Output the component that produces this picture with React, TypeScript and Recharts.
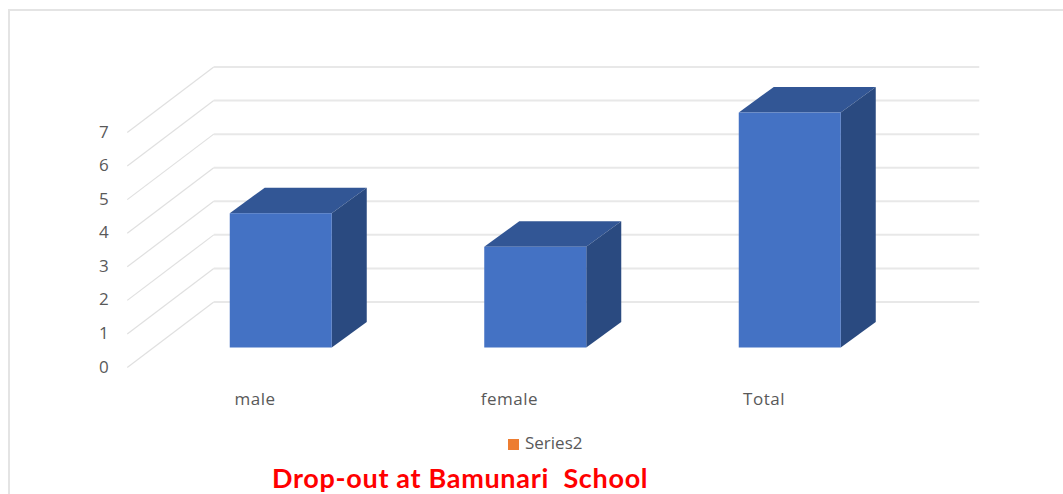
import React from "react";
import { BarChart, Bar, XAxis, YAxis, CartesianGrid, Legend } from "recharts";

const categories = ["male", "female", "Total"];
const dropouts = [4, 3, 7];
const series2: (number | null)[] = [null, null, null];
const yTicks = [0, 1, 2, 3, 4, 5, 6, 7];
const chartTitle = "Drop-out at Bamunari  School";

const rows = categories.map((name, i) => ({ name, dropouts: dropouts[i], series2: series2[i] }));

const LABEL_FONT = "'Open Sans', sans-serif";
const LABEL_COLOR = "#595959";
const DEPTH_X = 35;
const DEPTH_Y = 25.5;

function Bar3D(props: any) {
  const { x, y, width, height } = props;
  if (!height) return null;
  const r = x + width;
  const b = y + height;
  return (
    <g>
      <polygon points={`${x},${y} ${x + DEPTH_X},${y - DEPTH_Y} ${r + DEPTH_X},${y - DEPTH_Y} ${r},${y}`} fill="#325695" />
      <polygon points={`${r},${y} ${r + DEPTH_X},${y - DEPTH_Y} ${r + DEPTH_X},${b - DEPTH_Y} ${r},${b}`} fill="#2a4a80" />
      <rect x={x} y={y} width={width} height={height} fill="#4472c4" />
    </g>
  );
}

function WallLine(props: any) {
  const { x1, x2, y1 } = props;
  return (
    <g fill="none">
      <line x1={x1 - 26.5} y1={y1 + 20} x2={x1 + 60} y2={y1 - 45.5} stroke="#e0e0e0" strokeWidth={1.2} />
      <line x1={x1 + 60} y1={y1 - 45.5} x2={x2 + 62} y2={y1 - 45.5} stroke="#e8e8e8" strokeWidth={2} />
    </g>
  );
}

function YTick(props: any) {
  const { x, y, payload } = props;
  return (
    <text x={x - 42} y={y + 25} textAnchor="middle" fontFamily={LABEL_FONT} fontSize={17} fill={LABEL_COLOR}>
      {payload.value}
    </text>
  );
}

function XTick(props: any) {
  const { x, payload } = props;
  return (
    <text x={x - 26} y={404.5} textAnchor="middle" fontFamily={LABEL_FONT} fontSize={17} letterSpacing={0.5} fill={LABEL_COLOR}>
      {payload.value}
    </text>
  );
}

export default function App() {
  return (
    <div style={{ position: "absolute", left: 0, top: 0, width: 1063, height: 494, overflow: "hidden", background: "#fff" }}>
      <div
        style={{
          position: "absolute",
          left: 8,
          top: 9,
          width: 1063,
          height: 494,
          borderTop: "2px solid #e4e4e4",
          borderLeft: "2px solid #e4e4e4",
        }}
      />
      <div style={{ position: "absolute", left: 0, top: 0 }}>
        <BarChart
          width={1063}
          height={494}
          data={rows}
          margin={{ top: 112.5, right: 145.75, bottom: 116.5, left: 0 }}
          barCategoryGap={0}
        >
          <CartesianGrid vertical={false} horizontal={WallLine} />
          <XAxis dataKey="name" height={30} axisLine={false} tickLine={false} tick={XTick} interval={0} />
          <YAxis
            width={153.75}
            domain={[0, 7]}
            ticks={yTicks}
            axisLine={false}
            tickLine={false}
            tick={YTick}
            interval={0}
          />
          <Legend
            layout="horizontal"
            verticalAlign="middle"
            align="center"
            iconType="square"
            iconSize={11}
            wrapperStyle={{ position: "absolute", left: 508, top: 431, width: "auto", height: "auto", fontFamily: LABEL_FONT, fontSize: 17 }}
            formatter={(v: string) => <span style={{ color: LABEL_COLOR, marginLeft: 2 }}>{v}</span>}
          />
          <Bar dataKey="dropouts" name="Series1" stackId="a" barSize={102} shape={Bar3D} fill="#4472c4" legendType="none" isAnimationActive={false} />
          <Bar dataKey="series2" name="Series2" stackId="a" fill="#ed7d31" isAnimationActive={false} />
        </BarChart>
      </div>
      <div
        style={{
          position: "absolute",
          left: 272,
          top: 461,
          whiteSpace: "pre",
          fontFamily: "Lato, sans-serif",
          fontWeight: 700,
          fontSize: 27,
          letterSpacing: 0.68,
          lineHeight: "34px",
          color: "#ff0000",
        }}
      >
        {chartTitle}
      </div>
    </div>
  );
}
